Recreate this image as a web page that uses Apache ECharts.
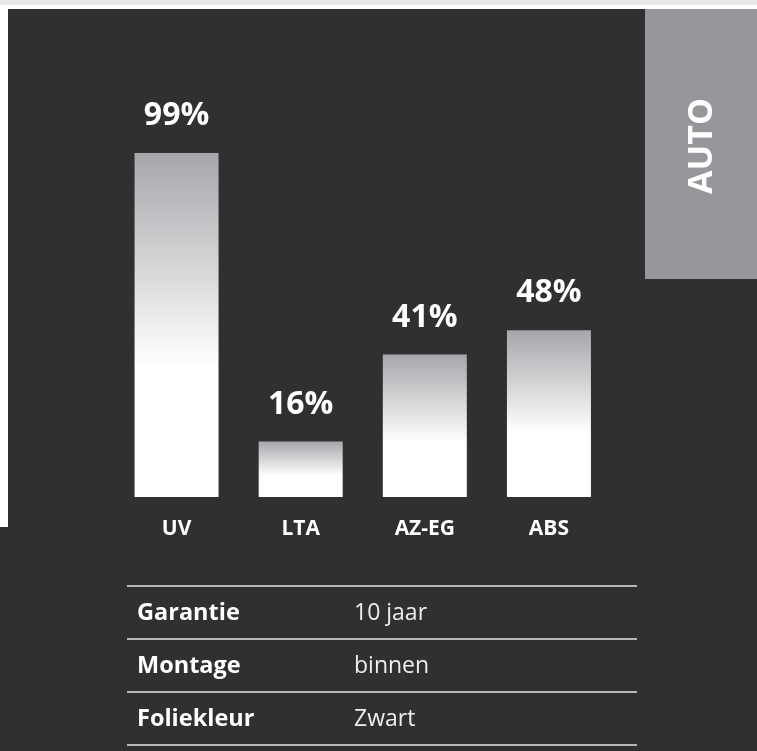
<!DOCTYPE html>
<html lang="nl">
<head>
    <meta charset="utf-8">
    <title>AUTO</title>
    <script src="https://cdn.jsdelivr.net/npm/echarts@6/dist/echarts.min.js"></script>
    <style>
        html, body {margin: 0; padding: 0; background: #312f30;}
        #main {width: 757px; height: 751px;}
    </style>
</head>
<body>
<div id="main"></div>
<script type="text/javascript">
    // data
    var categories = ['UV', 'LTA', 'AZ-EG', 'ABS'];
    var values = [99, 16, 41, 48];
    var tableLabels = ['Garantie', 'Montage', 'Foliekleur'];
    var tableValues = ['10 jaar', 'binnen', 'Zwart'];
    var sideTitle = 'AUTO';

    var myChart = echarts.init(document.getElementById('main'));

    var font = '"Open Sans", "Noto Sans", sans-serif';

    // tabel onder de grafiek
    var tableTop = 586, rowH = 53;
    var tableGraphics = [];
    for (var i = 0; i <= tableLabels.length; i++) {
        tableGraphics.push({
            type: 'line',
            shape: {x1: 127, y1: tableTop + i * rowH, x2: 637, y2: tableTop + i * rowH},
            style: {stroke: '#e6e6e6', lineWidth: 1.4}
        });
    }
    for (var j = 0; j < tableLabels.length; j++) {
        var cy = tableTop + j * rowH + rowH / 2 + 1;
        tableGraphics.push({
            type: 'text', x: 137, y: cy,
            style: {text: tableLabels[j], fill: '#fff', font: 'bold 23.5px ' + font, textVerticalAlign: 'middle'}
        });
        tableGraphics.push({
            type: 'text', x: 354, y: cy,
            style: {text: tableValues[j], fill: '#eee', font: '23px ' + font, textVerticalAlign: 'middle'}
        });
    }

    var option = {
        animation: false,
        backgroundColor: '#312f30',
        grid: {left: 114.5, right: 146, top: 149.5, bottom: 254},
        xAxis: {
            type: 'category',
            data: categories,
            axisLine: {show: false},
            axisTick: {show: false},
            axisLabel: {
                color: '#fff',
                fontFamily: font,
                fontWeight: 'bold',
                fontSize: 21,
                margin: 22
            }
        },
        yAxis: {
            type: 'value',
            min: 0,
            max: 100,
            show: false,
            splitLine: {show: false}
        },
        series: [{
            type: 'bar',
            data: values,
            barWidth: 84,
            itemStyle: {
                color: new echarts.graphic.LinearGradient(0, 0, 0, 1, [
                    {offset: 0, color: '#a6a7ab'},
                    {offset: 0.62, color: '#ffffff'},
                    {offset: 1, color: '#ffffff'}
                ])
            },
            label: {
                show: true,
                position: 'top',
                distance: 21,
                formatter: '{c}%',
                color: '#fff',
                fontFamily: font,
                fontWeight: 'bold',
                fontSize: 32
            }
        }],
        graphic: [
            // bovenrand en linkerrand
            {type: 'rect', shape: {x: 0, y: 0, width: 757, height: 5}, style: {fill: '#e9e9e9'}},
            {type: 'rect', shape: {x: 0, y: 5, width: 757, height: 4}, style: {fill: '#ffffff'}},
            {type: 'rect', shape: {x: 0, y: 9, width: 8, height: 518}, style: {fill: '#ffffff'}},
            // grijs vak rechts
            {type: 'rect', shape: {x: 645, y: 9, width: 112, height: 270}, style: {fill: '#96979b'}},
            {
                type: 'text', x: 702, y: 146, rotation: Math.PI / 2,
                style: {
                    text: sideTitle, fill: '#fff', font: 'bold 34px ' + font,
                    textAlign: 'center', textVerticalAlign: 'middle'
                }
            }
        ].concat(tableGraphics)
    };
    myChart.setOption(option);
</script>
</body>
</html>
